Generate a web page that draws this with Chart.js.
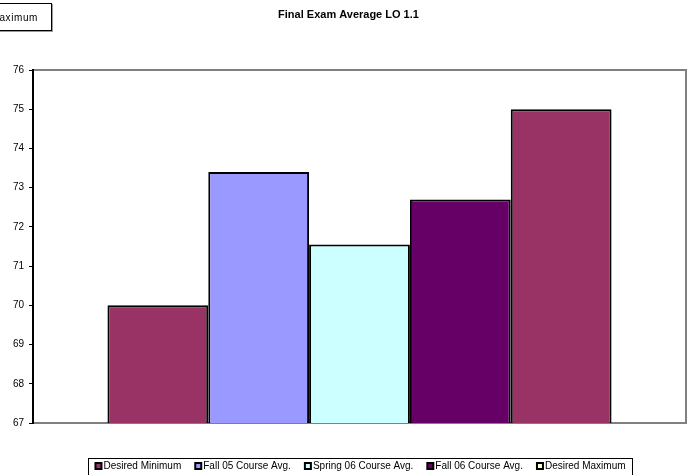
<!DOCTYPE html>
<html>
<head>
<meta charset="utf-8">
<script src="https://cdn.jsdelivr.net/npm/chart.js@4/dist/chart.umd.min.js"></script>
<style>
  html, body { margin: 0; padding: 0; background: #fff; overflow: hidden; }
  #wrap { position: relative; width: 688px; height: 475px; }
  #note {
    position: absolute; left: -60px; top: 3px; width: 112px; height: 28px;
    border: 1px solid #000; box-shadow: 1px 1px 0 #999; background: #fff;
    font: 10px "Liberation Sans", Arial, sans-serif; letter-spacing: 0.6px;
    line-height: 28px; text-align: right; padding-right: 13px; box-sizing: border-box;
    white-space: nowrap; overflow: hidden;
  }
</style>
</head>
<body>
<div id="wrap">
  <canvas id="c" width="688" height="475"></canvas>
  <div id="note">Desired Maximum</div>
</div>
<script>
// Final exam averages for learning outcome 1.1
const chartTitle = 'Final Exam Average LO 1.1';
const categories = [''];
const seriesNames = ['Desired Minimum', 'Fall 05 Course Avg.', 'Spring 06 Course Avg.', 'Fall 06 Course Avg.', 'Desired Maximum'];
const seriesValues = [70.0, 73.4, 71.55, 72.7, 75.0];
const yTicks = [67, 68, 69, 70, 71, 72, 73, 74, 75, 76];

const barColors = ['#993366', '#9999FF', '#CCFFFF', '#660066', '#993366'];
const swatchColors = ['#993366', '#9999FF', '#CCFFFF', '#660066', '#FFFFCC'];
const FONT = '"Liberation Sans", Arial, sans-serif';

// Gray plot frame, drawn under the axes and bars
const plotFrame = {
  id: 'plotFrame',
  beforeDraw(chart) {
    const { ctx, chartArea: a } = chart;
    ctx.save();
    ctx.strokeStyle = '#808080';
    ctx.lineWidth = 2;
    ctx.strokeRect(a.left, a.top, a.right - a.left, a.bottom - a.top);
    ctx.restore();
  }
};

// Title and boxed legend along the bottom
const decorations = {
  id: 'decorations',
  afterDraw(chart) {
    const ctx = chart.ctx;
    ctx.save();
    ctx.fillStyle = '#000';
    ctx.font = 'bold 11px ' + FONT;
    ctx.textAlign = 'center';
    ctx.textBaseline = 'middle';
    ctx.fillText(chartTitle, 348.5, 15);

    // legend
    ctx.font = '10px ' + FONT;
    ctx.textAlign = 'left';
    const sw = 8, gapText = 1, gapItem = 13;
    const items = chart.data.datasets.map((d, i) => ({
      label: d.label, color: swatchColors[i], w: sw + gapText + ctx.measureText(d.label).width
    }));
    const total = items.reduce((s, it) => s + it.w, 0) + gapItem * (items.length - 1);
    const boxL = 88, boxR = 632, boxT = 458;
    let x = (boxL + boxR) / 2 - total / 2;
    const cy = 466;
    ctx.strokeStyle = '#000';
    ctx.lineWidth = 1;
    ctx.strokeRect(boxL + 0.5, boxT + 0.5, boxR - boxL, 40);
    items.forEach(it => {
      ctx.fillStyle = '#000';
      ctx.fillRect(x, cy - 4, sw, sw);
      ctx.fillStyle = it.color;
      ctx.fillRect(x + 2, cy - 2, sw - 4, sw - 4);
      ctx.fillStyle = '#000';
      ctx.fillText(it.label, x + sw + gapText, cy + 0.5);
      x += it.w + gapItem;
    });
    ctx.restore();
  }
};

new Chart(document.getElementById('c'), {
  type: 'bar',
  data: {
    labels: categories,
    datasets: seriesNames.map((name, i) => ({
      label: name,
      data: [seriesValues[i]],
      backgroundColor: barColors[i],
      borderColor: '#000',
      borderWidth: 2,
      borderSkipped: false,
      categoryPercentage: 0.772,
      barPercentage: 1.0
    }))
  },
  options: {
    responsive: false,
    animation: false,
    layout: { padding: { top: 70, right: 2, bottom: 52, left: 0 } },
    plugins: {
      legend: { display: false },
      title: { display: false },
      tooltip: { enabled: false }
    },
    scales: {
      x: { display: false },
      y: {
        min: yTicks[0],
        max: yTicks[yTicks.length - 1],
        afterBuildTicks(scale) { scale.ticks = yTicks.map(v => ({ value: v })); },
        afterFit(scale) { scale.width = 33; },
        border: { display: true, color: '#000', width: 2 },
        grid: { drawOnChartArea: false, drawTicks: true, tickLength: 4, color: '#000' },
        ticks: { color: '#000', font: { family: FONT, size: 10 }, padding: 5 }
      }
    }
  },
  plugins: [plotFrame, decorations]
});
</script>
</body>
</html>
